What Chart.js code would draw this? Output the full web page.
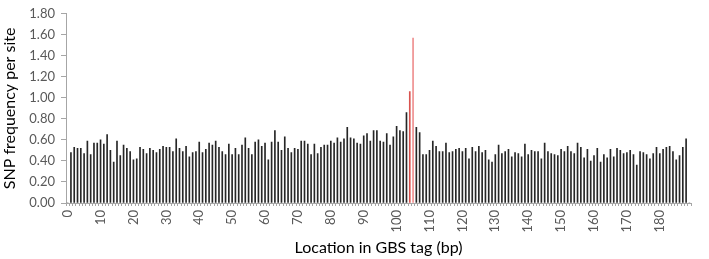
<!DOCTYPE html>
<html>
<head>
<meta charset="utf-8">
<script src="https://cdn.jsdelivr.net/npm/chart.js@4.4.1/dist/chart.umd.min.js"></script>
<style>
    html, body { margin: 0; padding: 0; background: #fff; }
    #wrap { width: 709px; height: 259px; }
</style>
</head>
<body>
<div id="wrap"><canvas id="snpChart"></canvas></div>
<script>
// SNP frequency per position in the GBS tag (0..189)
const positions = Array.from({ length: 190 }, (_, i) => String(i));

const snpFreq = [
    0.00, 0.48, 0.53, 0.52, 0.52, 0.47, 0.59, 0.46, 0.57, 0.57,
    0.60, 0.56, 0.65, 0.50, 0.39, 0.59, 0.45, 0.55, 0.52, 0.49,
    0.41, 0.42, 0.53, 0.51, 0.47, 0.52, 0.50, 0.48, 0.51, 0.54,
    0.53, 0.53, 0.49, 0.61, 0.52, 0.49, 0.54, 0.44, 0.48, 0.49,
    0.58, 0.48, 0.51, 0.57, 0.55, 0.59, 0.53, 0.49, 0.46, 0.56,
    0.46, 0.52, 0.46, 0.55, 0.62, 0.52, 0.46, 0.58, 0.60, 0.54,
    0.57, 0.41, 0.58, 0.69, 0.58, 0.50, 0.63, 0.52, 0.48, 0.52,
    0.51, 0.59, 0.59, 0.56, 0.46, 0.56, 0.47, 0.53, 0.55, 0.55,
    0.59, 0.57, 0.62, 0.58, 0.61, 0.72, 0.62, 0.61, 0.57, 0.56,
    0.64, 0.66, 0.59, 0.69, 0.69, 0.59, 0.58, 0.66, 0.55, 0.63,
    0.73, 0.69, 0.68, 0.86, 1.06, 1.57, 0.72, 0.67, 0.46, 0.46,
    0.50, 0.59, 0.54, 0.49, 0.49, 0.57, 0.48, 0.49, 0.51, 0.52,
    0.49, 0.52, 0.42, 0.53, 0.49, 0.54, 0.48, 0.50, 0.41, 0.39,
    0.46, 0.55, 0.47, 0.49, 0.51, 0.44, 0.48, 0.47, 0.44, 0.56,
    0.46, 0.50, 0.49, 0.49, 0.42, 0.57, 0.49, 0.47, 0.46, 0.45,
    0.51, 0.49, 0.54, 0.49, 0.47, 0.57, 0.53, 0.43, 0.51, 0.40,
    0.45, 0.52, 0.39, 0.46, 0.43, 0.51, 0.44, 0.52, 0.50, 0.47,
    0.48, 0.50, 0.46, 0.36, 0.49, 0.48, 0.46, 0.42, 0.47, 0.53,
    0.47, 0.51, 0.53, 0.54, 0.49, 0.41, 0.45, 0.53, 0.61, 0.00
];

// positions drawn in red
const highlightPositions = [104, 105];

const yTicks = [0, 0.2, 0.4, 0.6, 0.8, 1.0, 1.2, 1.4, 1.6, 1.8];

const barColors = positions.map((p, i) => {
    if (i === 104) return '#d9534f';
    if (highlightPositions.includes(i)) return '#ef8f8f';
    return '#262626';
});

const FONT = 'Lato, "Open Sans", sans-serif';

new Chart(document.getElementById('snpChart'), {
    type: 'bar',
    data: {
        labels: positions,
        datasets: [{
            data: snpFreq,
            backgroundColor: barColors,
            borderWidth: 0,
            barThickness: 1
        }]
    },
    options: {
        responsive: true,
        maintainAspectRatio: false,
        animation: false,
        layout: { padding: { top: 5, right: 0, bottom: 2, left: 0 } },
        plugins: {
            legend: { display: false },
            tooltip: { enabled: false }
        },
        scales: {
            x: {
                grid: {
                    display: true,
                    drawOnChartArea: false,
                    drawTicks: true,
                    tickLength: 3,
                    color: '#a6a6a6'
                },
                border: { color: '#a6a6a6' },
                ticks: {
                    autoSkip: false,
                    maxRotation: 90,
                    minRotation: 90,
                    padding: 4,
                    color: '#595959',
                    font: { family: FONT, size: 13 },
                    callback: function(value, index) {
                        return index % 10 === 0 ? positions[index] : '';
                    }
                },
                title: {
                    display: true,
                    text: 'Location in GBS tag (bp)',
                    color: '#000',
                    font: { family: FONT, size: 16 },
                    padding: { top: 4, bottom: 0 }
                },
                afterFit: function(scale) { scale.height = 54; }
            },
            y: {
                min: 0,
                max: 1.8,
                afterBuildTicks: function(scale) {
                    scale.ticks = yTicks.map(v => ({ value: v }));
                },
                grid: {
                    display: true,
                    drawOnChartArea: false,
                    drawTicks: true,
                    tickLength: 5,
                    color: '#a6a6a6'
                },
                border: { color: '#a6a6a6' },
                ticks: {
                    padding: 6,
                    color: '#595959',
                    font: { family: FONT, size: 13 },
                    callback: function(value) { return value.toFixed(2); }
                },
                title: {
                    display: true,
                    text: 'SNP frequency per site',
                    color: '#000',
                    font: { family: FONT, size: 16 },
                    padding: { top: 0, bottom: 2 }
                },
                afterFit: function(scale) { scale.width = 66; }
            }
        }
    }
});
</script>
</body>
</html>
